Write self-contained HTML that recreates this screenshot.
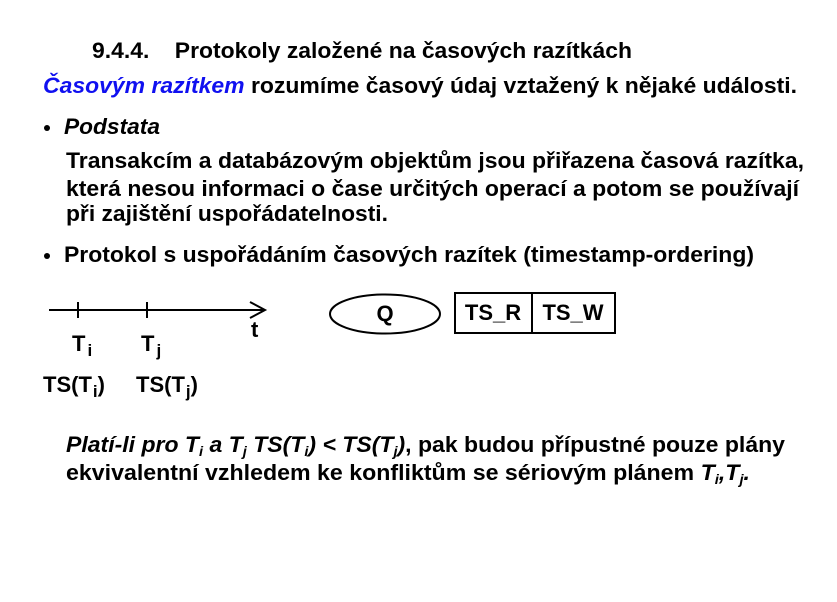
<!DOCTYPE html>
<html><head><meta charset="utf-8"><style>
html,body{margin:0;padding:0;background:#fff;}
svg{display:block;}
text{font-family:"Liberation Sans",Arial,sans-serif;font-weight:bold;font-size:22px;fill:#000;}
</style></head><body>
<svg width="837" height="602" viewBox="0 0 837 602" xmlns="http://www.w3.org/2000/svg">
<text x="92" y="58" textLength="540" lengthAdjust="spacingAndGlyphs" xml:space="preserve">9.4.4.    Protokoly založené na časových razítkách</text>
<text x="43" y="93" textLength="754" lengthAdjust="spacingAndGlyphs"><tspan font-style="italic" fill="#1010f0">Časovým razítkem</tspan> rozumíme časový údaj vztažený k nějaké události.</text>
<circle cx="47" cy="128" r="3"/>
<text x="64" y="134" font-style="italic" textLength="96" lengthAdjust="spacingAndGlyphs">Podstata</text>
<text x="66" y="168" textLength="738" lengthAdjust="spacingAndGlyphs">Transakcím a databázovým objektům jsou přiřazena časová razítka,</text>
<text x="66" y="196" textLength="733" lengthAdjust="spacingAndGlyphs">která nesou informaci o čase určitých operací a potom se používají</text>
<text x="66" y="221" textLength="322" lengthAdjust="spacingAndGlyphs">při zajištění uspořádatelnosti.</text>
<circle cx="47" cy="256" r="3"/>
<text x="64" y="262" textLength="690" lengthAdjust="spacingAndGlyphs">Protokol s uspořádáním časových razítek (timestamp-ordering)</text>

<g stroke="#000" stroke-width="2" fill="none">
<line x1="49" y1="310" x2="265" y2="310"/>
<line x1="78" y1="302" x2="78" y2="318"/>
<line x1="147" y1="302" x2="147" y2="318"/>
<polyline points="250,302 265,310 250,318"/>
<ellipse cx="385" cy="314" rx="55" ry="19.5"/>
<rect x="455" y="293" width="160" height="40"/>
<line x1="532" y1="293" x2="532" y2="333"/>
</g>
<text x="251" y="337" font-size="20">t</text>
<text x="72" y="351" font-size="20">T<tspan font-size="17" dx="2" dy="5">i</tspan></text>
<text x="141" y="351" font-size="20">T<tspan font-size="17" dx="2" dy="5">j</tspan></text>
<text x="43" y="392" font-size="20">TS(T<tspan font-size="17" dx="1" dy="5">i</tspan><tspan dy="-5">)</tspan></text>
<text x="136" y="392" font-size="20">TS(T<tspan font-size="17" dx="1" dy="5">j</tspan><tspan dy="-5">)</tspan></text>
<text x="385" y="321" font-size="20" text-anchor="middle">Q</text>
<text x="493" y="320" font-size="20" text-anchor="middle">TS_R</text>
<text x="573" y="320" font-size="20" text-anchor="middle">TS_W</text>

<text x="66" y="452" textLength="719" lengthAdjust="spacingAndGlyphs"><tspan font-style="italic">Platí-li pro T<tspan font-size="14" dy="4">i</tspan><tspan dy="-4"> a T</tspan><tspan font-size="14" dy="4">j</tspan><tspan dy="-4"> TS(T</tspan><tspan font-size="14" dy="4">i</tspan><tspan dy="-4">) &lt; TS(T</tspan><tspan font-size="14" dy="4">j</tspan><tspan dy="-4">)</tspan></tspan>, pak budou přípustné pouze plány</text>
<text x="66" y="480" textLength="684" lengthAdjust="spacingAndGlyphs">ekvivalentní vzhledem ke konfliktům se sériovým plánem <tspan font-style="italic">T<tspan font-size="14" dy="4">i</tspan><tspan dy="-4">,T</tspan><tspan font-size="14" dy="4">j</tspan><tspan dy="-4">.</tspan></tspan></text>
</svg>
</body></html>
